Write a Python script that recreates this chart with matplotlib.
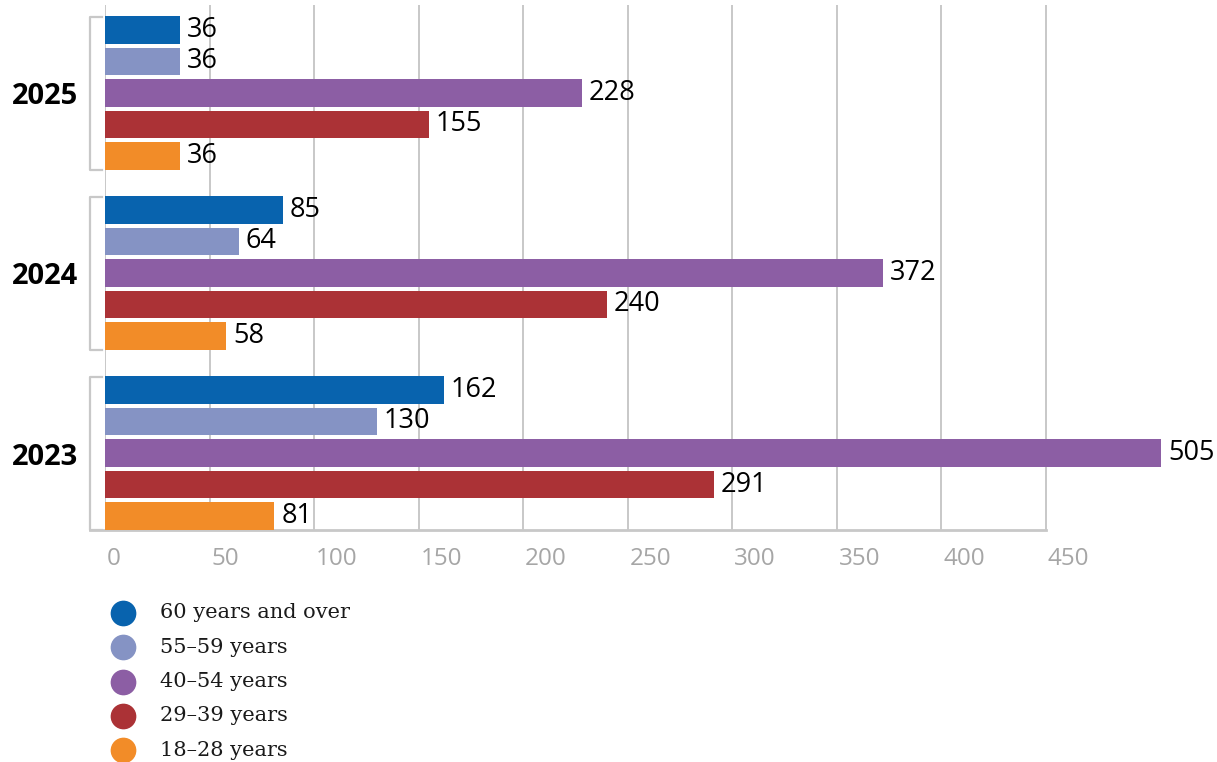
import numpy as np
import matplotlib
matplotlib.use("Agg")
import matplotlib.pyplot as plt
from matplotlib.lines import Line2D
from matplotlib.transforms import ScaledTranslation

years = ["2023", "2024", "2025"]
groups = ["60 years and over", "55\u201359 years", "40\u201354 years", "29\u201339 years", "18\u201328 years"]
colors = ["#0863ae", "#8593c4", "#8c5ea4", "#ab3236", "#f28c28"]
# values[year][group]
values = {
    "2023": [162, 130, 505, 291, 81],
    "2024": [85, 64, 372, 240, 58],
    "2025": [36, 36, 228, 155, 36],
}
xticks = [0, 50, 100, 150, 200, 250, 300, 350, 400, 450]

GROUP_STEP = 5.714
BAR_H = 0.88
GRID = "#c8c8c8"
AX_W = 1096  # axes width in px
PX_PER_UNIT = (1046 - 105) / 450

fig = plt.figure(figsize=(12.17, 7.62), dpi=100)
ax = fig.add_axes([105 / 1217, 232 / 762, AX_W / 1217, 525 / 762])
xmax = AX_W / PX_PER_UNIT

for g, yr in enumerate(years):
    base = g * GROUP_STEP
    for i, v in enumerate(values[yr]):
        y = base + (4 - i)
        ax.barh(y, v, height=BAR_H, color=colors[i], zorder=3, clip_on=False)
        ax.annotate(str(v), (v, y), xytext=(5, 0), textcoords="offset points",
                    ha="left", va="center", fontsize=19.5, family="Open Sans", zorder=4)
    # year label
    ax.annotate(yr, (0, base + 2), xycoords=("axes fraction", "data"),
                xytext=(-27, -4), textcoords="offset pixels", ha="right", va="center",
                fontsize=21, fontweight="bold", family="Open Sans")
    # bracket
    top = base + 4 + 0.4
    bot = base - 0.45
    bx0 = -15 / AX_W
    bx1 = -3 / AX_W
    tr = ax.get_yaxis_transform()
    ax.add_line(Line2D([bx1, bx0, bx0, bx1], [top, top, bot, bot], transform=tr,
                       color=GRID, lw=1.6, clip_on=False))

ax.set_xlim(0, xmax)
ax.set_ylim(-0.444, 16.22)

for t in xticks:
    ax.axvline(t, color=GRID, lw=1.4, zorder=1)
ax.add_line(Line2D([-15 / AX_W, 450 / xmax], [0, 0], transform=ax.transAxes,
                   color=GRID, lw=2, clip_on=False))

for s in ax.spines.values():
    s.set_visible(False)
ax.set_yticks([])
ax.set_xticks(xticks)
ax.tick_params(axis="x", length=0, pad=12, labelsize=17.5, labelcolor="#a6a6a6")
for lab in ax.get_xticklabels():
    lab.set_family("Open Sans")
    lab.set_horizontalalignment("left")
    lab.set_transform(lab.get_transform() + ScaledTranslation(2 / 100, 0, fig.dpi_scale_trans))

# legend
for i, (name, c) in enumerate(zip(groups, colors)):
    yy = 1 - (613 + i * 34.3) / 762
    fig.add_artist(Line2D([123 / 1217], [yy], marker="o", markersize=17.5, color=c,
                          linestyle="none", transform=fig.transFigure))
    fig.text(160 / 1217, yy, name, ha="left", va="center", fontsize=15,
             family="DejaVu Serif", color="#1a1a1a")

fig.savefig("out.png", dpi=100)
